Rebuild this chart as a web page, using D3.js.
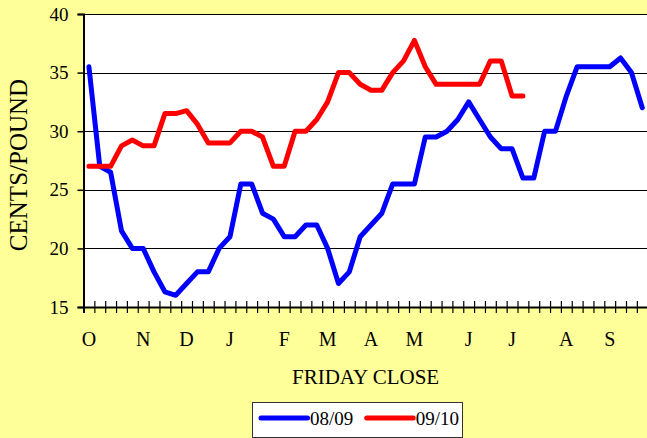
<!DOCTYPE html>
<html>
<head>
<meta charset="utf-8">
<script src="https://cdn.jsdelivr.net/npm/d3@7"></script>
<style>
  body { margin: 0; background: #ffff99; overflow: hidden; }
  svg { display: block; }
  svg text { font-family: "Liberation Serif", "Times New Roman", serif !important; fill: #000; }
</style>
</head>
<body>
<div id="chart"></div>
<script>
// weekly Friday closes, month letter on the first week shown for that month
const weeks = ["O","","","","","N","","","","D","","","","J","","","","","F","","","",
  "M","","","","A","","","","M","","","","","J","","","","J","","","","","A","","","",
  "S","","",""];
const yTicks = [15, 20, 25, 30, 35, 40];

const series0809 = [35.5, 27, 26.5, 21.5, 20, 20, 18, 16.3, 16, 17, 18, 18, 20, 21, 25.5, 25.5,
  23, 22.5, 21, 21, 22, 22, 20, 17, 18, 21, 22, 23, 25.5, 25.5, 25.5, 29.5, 29.5, 30, 31, 32.5,
  31, 29.5, 28.5, 28.5, 26, 26, 30, 30, 33, 35.5, 35.5, 35.5, 35.5, 36.25, 35, 32];
const series0910 = [27, 27, 27, 28.75, 29.25, 28.75, 28.75, 31.5, 31.5, 31.75, 30.6, 29, 29, 29,
  30, 30, 29.5, 27, 27, 30, 30, 31, 32.5, 35, 35, 34, 33.5, 33.5, 35, 36, 37.75, 35.5, 34, 34, 34,
  34, 34, 36, 36, 33, 33];

const seriesList = [
  { name: "08/09", values: series0809, color: "#0000ff" },
  { name: "09/10", values: series0910, color: "#ff0000" }
];

const W = 647, H = 438;
const plot = { left: 83.5, right: 647.7, top: 14, bottom: 307 };

const svg = d3.select("#chart").append("svg")
  .attr("width", W).attr("height", H);

svg.append("rect").attr("width", W).attr("height", H).attr("fill", "#ffff99");

const x = d3.scaleBand()
  .domain(d3.range(weeks.length))
  .range([plot.left, plot.right])
  .padding(0);
const xEdge = d3.scaleLinear()
  .domain([0, weeks.length])
  .range([plot.left, plot.right]);
const y = d3.scaleLinear().domain([15, 40]).range([plot.bottom, plot.top]);
const cx = i => x(i) + x.bandwidth() / 2;

// plot area
svg.append("rect")
  .attr("x", plot.left).attr("y", plot.top)
  .attr("width", plot.right - plot.left).attr("height", plot.bottom - plot.top)
  .attr("fill", "#fff");

// gridlines
svg.append("g")
  .selectAll("line")
  .data(yTicks.slice(1))
  .join("line")
  .attr("x1", plot.left).attr("x2", plot.right)
  .attr("y1", d => Math.round(y(d)) + 0.5).attr("y2", d => Math.round(y(d)) + 0.5)
  .attr("stroke", "#000").attr("stroke-width", 1);

// y axis
const yAxis = svg.append("g")
  .attr("transform", `translate(${plot.left},0)`)
  .call(d3.axisLeft(y).tickValues(yTicks).tickSize(6).tickPadding(9));
yAxis.select(".domain").attr("stroke", "#000").attr("stroke-width", 2);
yAxis.selectAll(".tick line").attr("stroke", "#000").attr("stroke-width", 1.5);
yAxis.selectAll(".tick text").attr("font-size", 19);

// x axis: crossing week ticks
const xTicksG = svg.append("g")
  .attr("transform", `translate(0,${plot.bottom})`)
  .call(d3.axisBottom(xEdge).tickValues(d3.range(weeks.length + 1)).tickSize(6).tickFormat(""));
xTicksG.select(".domain").attr("stroke", "#000").attr("stroke-width", 2);
xTicksG.selectAll(".tick line")
  .attr("y1", -6).attr("y2", 6)
  .attr("stroke", "#000").attr("stroke-width", 1.2);

// month labels
const xLabels = svg.append("g")
  .attr("transform", `translate(0,${plot.bottom})`)
  .call(d3.axisBottom(x).tickSize(0).tickPadding(25).tickFormat(i => weeks[i]));
xLabels.select(".domain").remove();
xLabels.selectAll(".tick text").attr("font-size", 20);

// lines
const line = d3.line()
  .x((d, i) => cx(i))
  .y(d => y(d));

svg.append("g")
  .selectAll("path")
  .data(seriesList)
  .join("path")
  .attr("d", d => line(d.values))
  .attr("fill", "none")
  .attr("stroke", d => d.color)
  .attr("stroke-width", 5)
  .attr("stroke-linejoin", "round")
  .attr("stroke-linecap", "round");

// axis titles
svg.append("text")
  .attr("x", (plot.left + plot.right) / 2)
  .attr("y", 384)
  .attr("text-anchor", "middle")
  .attr("font-size", 21)
  .text("FRIDAY CLOSE");

svg.append("text")
  .attr("transform", `translate(27,165) rotate(-90)`)
  .attr("text-anchor", "middle")
  .attr("font-size", 25)
  .text("CENTS/POUND");

// legend
const legend = svg.append("g");
legend.append("rect")
  .attr("x", 252.5).attr("y", 402.5)
  .attr("width", 210).attr("height", 35)
  .attr("fill", "#fff").attr("stroke", "#333").attr("stroke-width", 1);

const legendItems = legend.selectAll("g.item")
  .data(seriesList)
  .join("g")
  .attr("class", "item")
  .attr("transform", (d, i) => `translate(${261 + i * 105.7},418)`);
legendItems.append("line")
  .attr("x1", 0).attr("x2", 46.5)
  .attr("stroke", d => d.color)
  .attr("stroke-width", 5)
  .attr("stroke-linecap", "round");
legendItems.append("text")
  .attr("x", 49).attr("y", 7)
  .attr("font-size", 19)
  .text(d => d.name);
</script>
</body>
</html>
